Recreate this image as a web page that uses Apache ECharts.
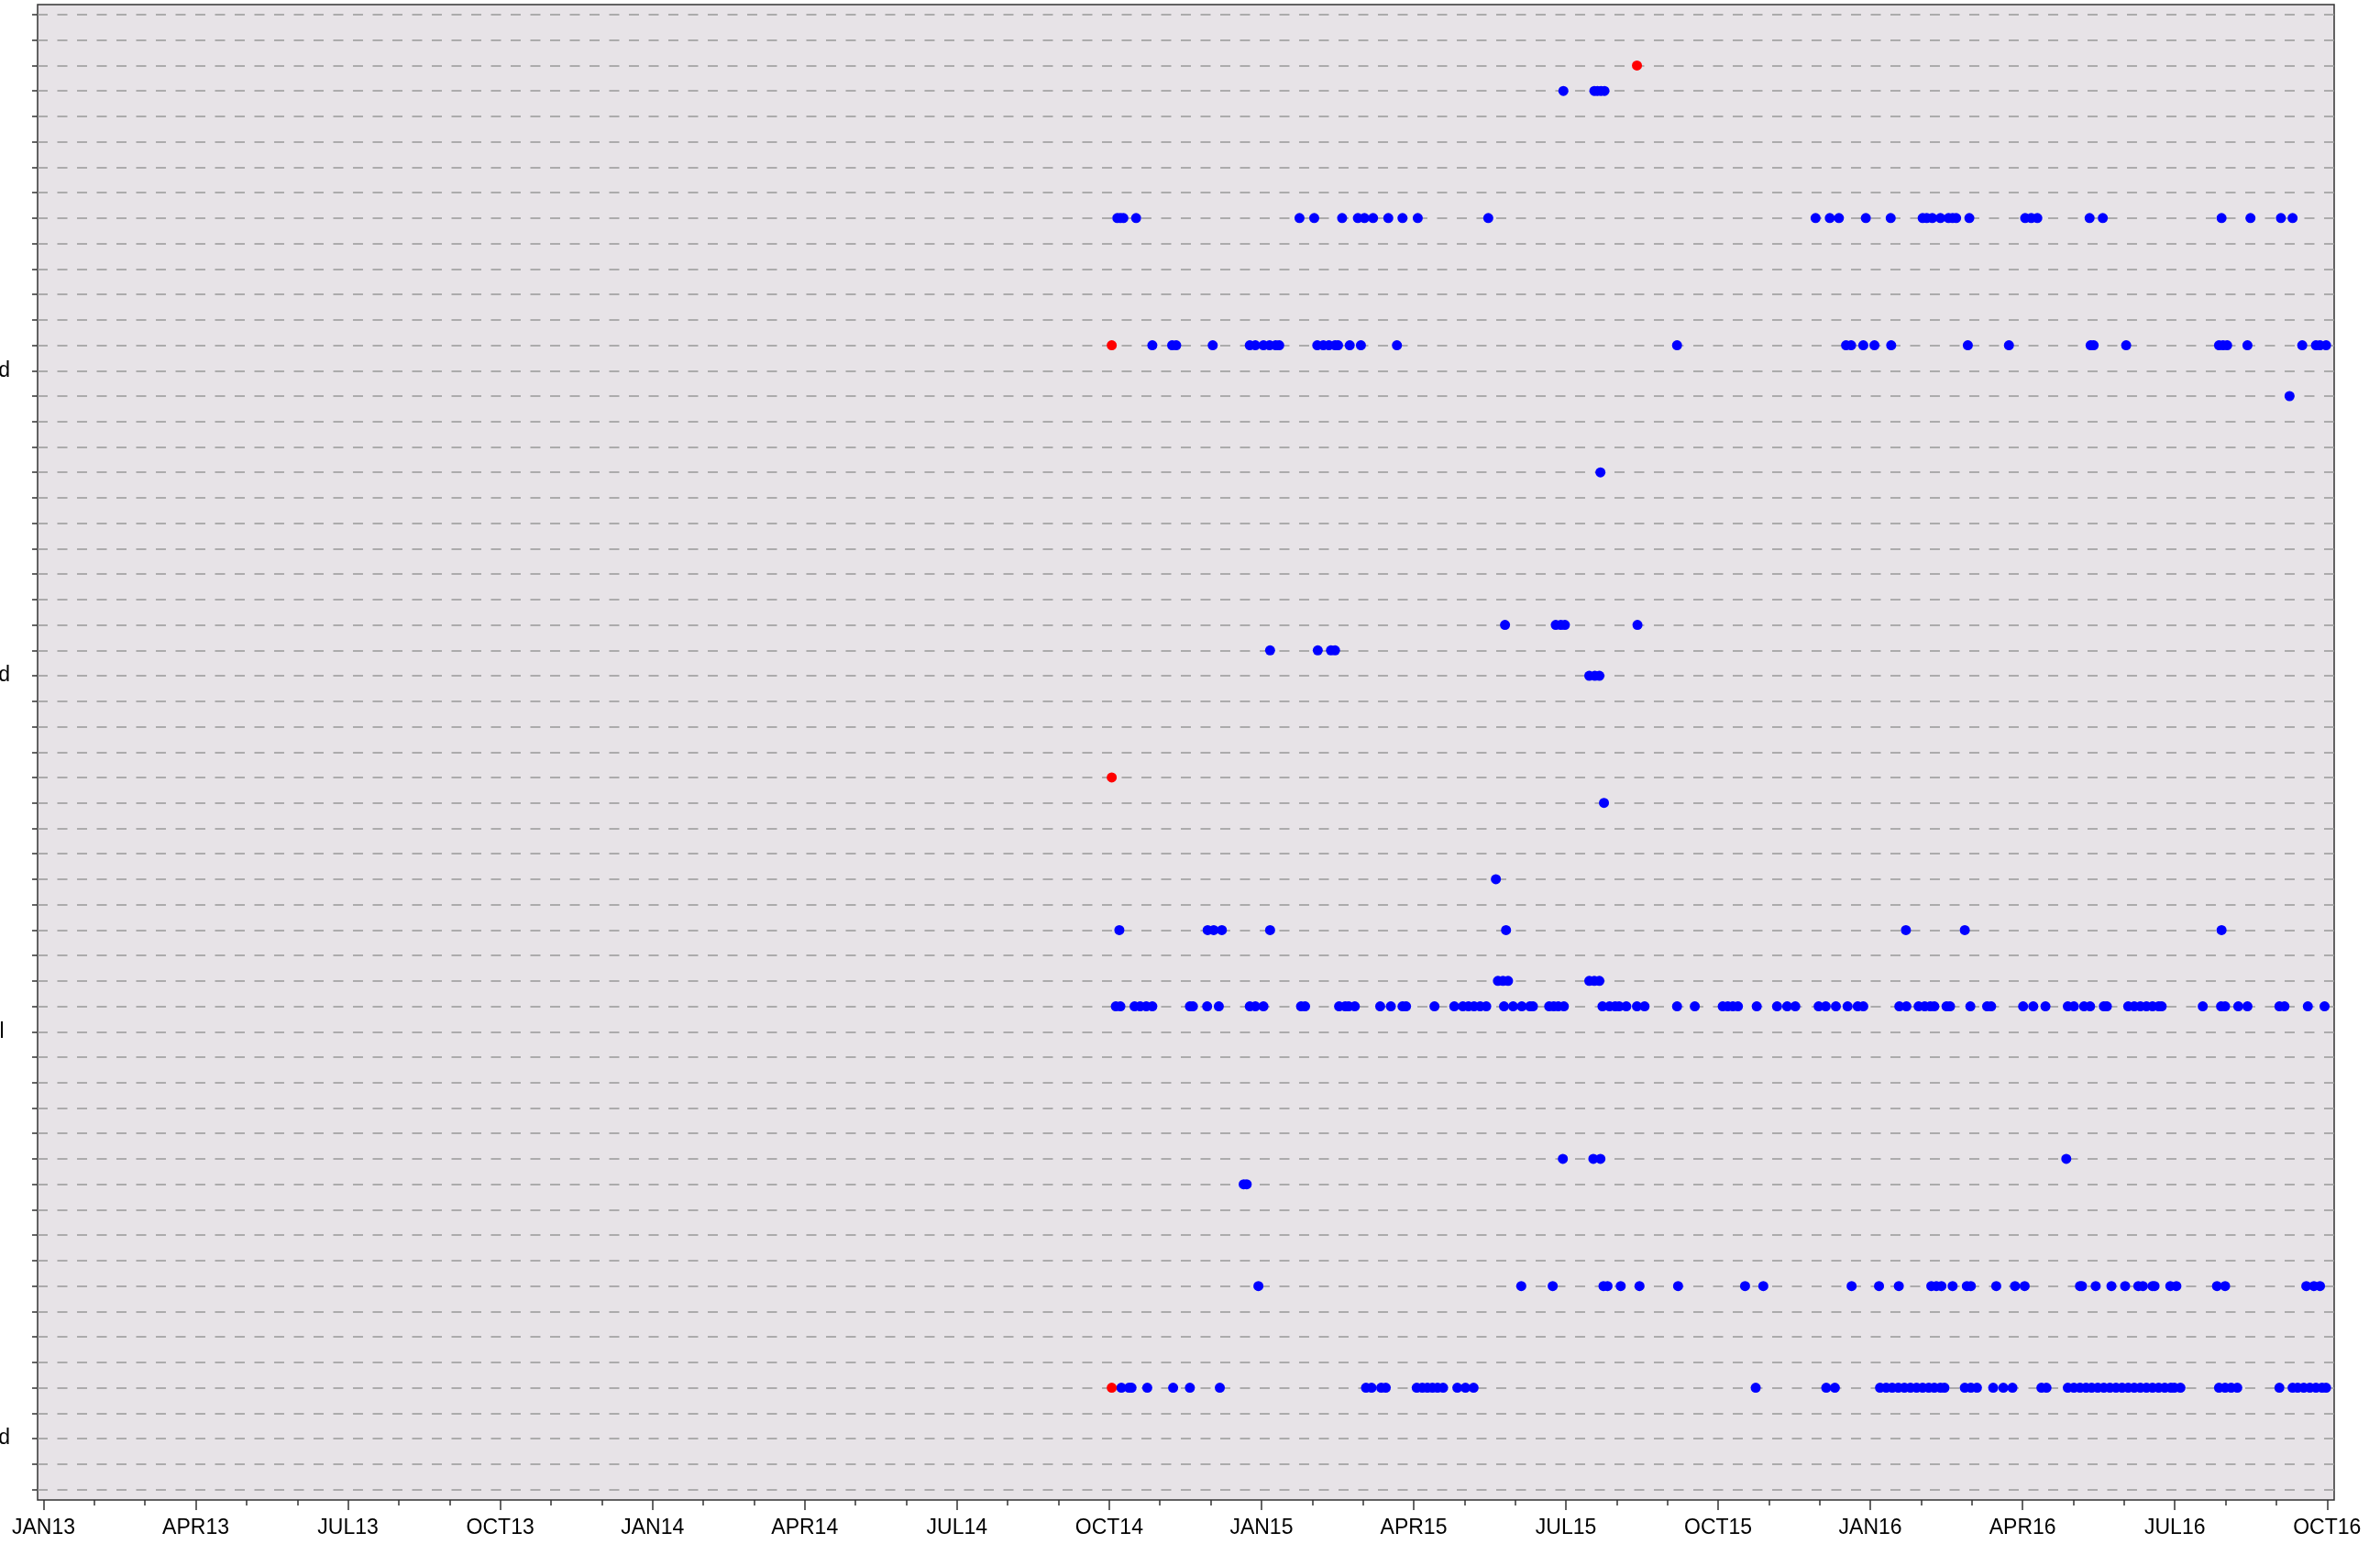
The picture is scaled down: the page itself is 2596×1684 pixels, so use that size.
<!DOCTYPE html>
<html>
<head>
<meta charset="utf-8">
<script src="https://cdn.jsdelivr.net/npm/echarts@6/dist/echarts.min.js"></script>
<style>
  html, body { margin: 0; padding: 0; background: #fff; }
  #main { width: 2596px; height: 1684px; }
</style>
</head>
<body>
<div id="main"></div>
<script>
// x values are months since 1 JAN 2013, y values are row numbers (0 = top row)
var quarterLabels = ['JAN13', 'APR13', 'JUL13', 'OCT13', 'JAN14', 'APR14', 'JUL14', 'OCT14',
                     'JAN15', 'APR15', 'JUL15', 'OCT15', 'JAN16', 'APR16', 'JUL16', 'OCT16'];

// 59 rows, only a few names reach the visible area
var rowLabels = [];
for (var i = 0; i < 59; i++) rowLabels.push('');
rowLabels[14] = 'Treatment completed';
rowLabels[26] = 'Treatment discontinued';
rowLabels[40] = 'Referred to hospital ';
rowLabels[56] = 'Follow-up not required';

var row03 = [29.95, 30.56, 30.62, 30.69, 30.76];
var row08 = [21.16, 21.22, 21.28, 21.53, 24.75, 25.04, 25.59, 25.90, 26.03, 26.20, 26.50, 26.78, 27.08, 28.47,
             34.92, 35.20, 35.38, 35.91, 36.40, 37.03, 37.11, 37.22, 37.38, 37.54, 37.62, 37.69, 37.95,
             39.05, 39.17, 39.29, 40.32, 40.58, 42.92, 43.49, 44.09, 44.32];
var row13 = [21.85, 22.24, 22.32, 23.04, 23.77, 23.88, 24.04, 24.16, 24.28, 24.35, 25.10, 25.22, 25.33, 25.45,
             25.51, 25.74, 25.96, 26.67, 32.19, 35.52, 35.62, 35.86, 36.08, 36.41, 37.92, 38.73, 40.34, 40.40,
             41.04, 42.87, 42.95, 43.03, 43.43, 44.51, 44.78, 44.86, 44.98];
var row15 = [44.26];
var row18 = [30.68];
var row24 = [28.80, 29.80, 29.90, 29.98, 31.41];
var row25 = [24.17, 25.11, 25.37, 25.45];
var row26 = [30.46, 30.57, 30.66];
var row31 = [30.75];
var row34 = [28.62];
var row36 = [21.20, 22.94, 23.06, 23.22, 24.17, 28.82, 36.70, 37.86, 42.92];
var row38 = [28.66, 28.76, 28.86, 30.46, 30.56, 30.66];
var row39 = [21.13, 21.22, 21.50, 21.61, 21.73, 21.85, 22.59, 22.65, 22.93, 23.16, 23.77, 23.88, 24.04, 24.78,
             24.86, 25.53, 25.65, 25.72, 25.84, 26.34, 26.55, 26.78, 26.85, 27.41, 27.80, 27.97, 28.08, 28.19,
             28.31, 28.43, 28.78, 28.96, 29.13, 29.29, 29.35, 29.67, 29.76, 29.85, 29.96, 30.72, 30.86, 30.97,
             31.05, 31.19, 31.40, 31.55, 32.19, 32.54, 33.09, 33.19, 33.29, 33.39, 33.76, 34.16, 34.36, 34.52,
             34.98, 35.12, 35.32, 35.55, 35.75, 35.86, 36.57, 36.71, 36.95, 37.07, 37.18, 37.26, 37.50, 37.57,
             37.97, 38.30, 38.38, 39.01, 39.21, 39.45, 39.89, 40.01, 40.21, 40.33, 40.60, 40.66, 41.08, 41.20,
             41.32, 41.44, 41.56, 41.68, 41.74, 42.55, 42.91, 42.99, 43.25, 43.43, 44.06, 44.16, 44.62, 44.95];
var row45 = [29.94, 30.54, 30.68, 39.86];
var row46 = [23.65, 23.71];
var row50 = [23.94, 29.12, 29.74, 30.74, 30.82, 31.08, 31.45, 32.21, 33.53, 33.89, 35.63, 36.17, 36.56, 37.20,
             37.30, 37.40, 37.62, 37.90, 37.98, 38.48, 38.85, 39.04, 40.13, 40.17, 40.44, 40.75, 41.02, 41.28,
             41.37, 41.56, 41.60, 41.91, 42.03, 42.83, 42.99, 44.59, 44.74, 44.86];
var row54 = [21.24, 21.39, 21.44, 21.75, 22.26, 22.59, 23.18, 26.06, 26.17, 26.36, 26.45, 27.06, 27.17, 27.27,
             27.37, 27.47, 27.58, 27.86, 28.02, 28.18, 33.74, 35.13, 35.30, 36.19, 36.31, 36.43, 36.55, 36.67,
             36.79, 36.91, 37.03, 37.15, 37.26, 37.38, 37.46, 37.86, 37.98, 38.10, 38.42, 38.62, 38.80, 39.37,
             39.47, 39.89, 40.01, 40.13, 40.25, 40.36, 40.48, 40.60, 40.72, 40.84, 40.96, 41.08, 41.20, 41.32,
             41.44, 41.56, 41.68, 41.80, 41.92, 41.99, 42.11, 42.87, 42.99, 43.11, 43.23, 44.06, 44.32, 44.42,
             44.54, 44.66, 44.78, 44.90, 44.98];

var blueRows = [[3, row03], [8, row08], [13, row13], [15, row15], [18, row18], [24, row24], [25, row25],
                [26, row26], [31, row31], [34, row34], [36, row36], [38, row38], [39, row39], [45, row45],
                [46, row46], [50, row50], [54, row54]];

// red marks: [month, row]
var redPoints = [[31.40, 2], [21.05, 13], [21.05, 30], [21.05, 54]];

var blueData = [];
blueRows.forEach(function (r) {
    r[1].forEach(function (m) { blueData.push([m, r[0]]); });
});

var font = 'Liberation Sans, Arial, sans-serif';
var axisColor = '#333';

var myChart = echarts.init(document.getElementById('main'));
myChart.setOption({
    animation: false,
    backgroundColor: '#fff',
    grid: [
        // frame with background
        { left: 41, right: 50, top: 5, bottom: 48, show: true, backgroundColor: '#e7e3e7',
          borderColor: axisColor, borderWidth: 1.5, outerBoundsMode: 'none' },
        // row lines across the full width
        { left: 41, right: 50, top: 16, bottom: 59.5, outerBoundsMode: 'none' },
        // data area
        { left: 47.5, right: 57.7, top: 16, bottom: 59.5, outerBoundsMode: 'none' }
    ],
    xAxis: [
        { gridIndex: 0, type: 'value', show: false },
        { gridIndex: 1, type: 'value', show: false, min: 0, max: 1 },
        {
            gridIndex: 2, type: 'value', min: 0, max: 45, interval: 3, offset: 11.5,
            axisLine: { show: false },
            axisTick: { show: true, length: 11, lineStyle: { color: axisColor, width: 1.5 } },
            minorTick: { show: true, splitNumber: 3, length: 6, lineStyle: { color: axisColor, width: 1.5 } },
            splitLine: { show: false },
            minorSplitLine: { show: false },
            axisLabel: {
                margin: 19, fontSize: 23, color: '#000', fontFamily: font,
                formatter: function (v) { return quarterLabels[Math.round(v / 3)] || ''; }
            }
        }
    ],
    yAxis: [
        { gridIndex: 0, type: 'value', show: false },
        {
            gridIndex: 1, type: 'category', data: rowLabels, inverse: true, boundaryGap: false,
            axisLine: { show: false },
            axisTick: { show: true, interval: 0, length: 6, lineStyle: { color: axisColor, width: 1.5 } },
            axisLabel: { interval: 0, margin: 30, fontSize: 23, color: '#000', fontFamily: font },
            splitLine: { show: true, interval: 0, lineStyle: { color: '#999', width: 1.5, type: [11, 10.5] } }
        },
        { gridIndex: 2, type: 'category', data: rowLabels, inverse: true, boundaryGap: false, show: false }
    ],
    series: [
        {
            type: 'scatter', xAxisIndex: 2, yAxisIndex: 2, data: blueData, clip: false,
            symbolSize: 11, itemStyle: { color: '#0000ff', opacity: 1 }
        },
        {
            type: 'scatter', xAxisIndex: 2, yAxisIndex: 2, data: redPoints, clip: false,
            symbolSize: 11, itemStyle: { color: '#ff0000', opacity: 1 }
        }
    ]
});
</script>
</body>
</html>
